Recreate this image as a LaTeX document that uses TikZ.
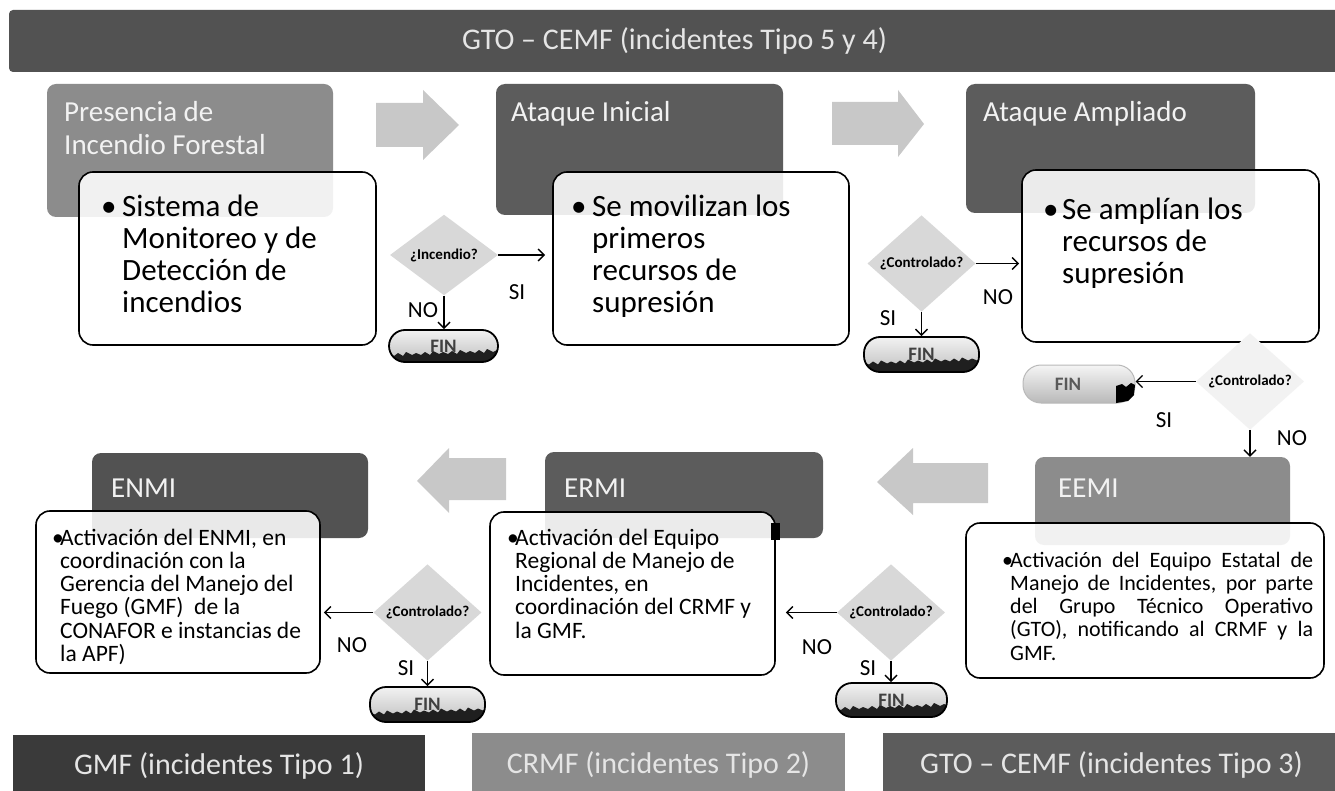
\documentclass[tikz,border=0pt]{standalone}
\usepackage{fontspec}
\setmainfont{Carlito}
\usetikzlibrary{shapes.geometric,arrows.meta}
\definecolor{cTop}{RGB}{82,82,82}
\definecolor{cDark}{RGB}{92,92,92}
\definecolor{cMid}{RGB}{140,140,140}
\definecolor{cGMF}{RGB}{58,58,58}
\definecolor{cArrow}{RGB}{200,200,200}
\definecolor{cDiam}{RGB}{216,216,216}
\newcommand\myfs[2]{\fontsize{#1}{#2}\selectfont}
\begin{document}
\begin{tikzpicture}[x=1pt,y=-1pt,
  hdr/.style={rectangle, rounded corners=9pt, inner sep=0, draw=none},
  bar/.style={rectangle, inner sep=0, text=white!90!black, font=\myfs{30}{30}},
  cbox/.style={rectangle, rounded corners=14pt, draw=black, line width=1.6pt, fill=white, fill opacity=0.88, draw opacity=1, inner sep=0},
  htext/.style={anchor=base west, inner sep=0, text=white!95!black, font=\myfs{29}{29}},
  btext/.style={anchor=base west, inner sep=0, font=\myfs{31}{31}},
  stext/.style={anchor=base west, inner sep=0, font=\myfs{23.5}{23.5}},
  etext/.style={anchor=base west, inner sep=0, font=\myfs{22}{22}},
  dec/.style={diamond, fill=cDiam, inner sep=0, minimum width=108pt, minimum height=66pt, font=\bfseries\myfs{15}{15}},
  lbl/.style={inner sep=0, font=\myfs{23}{23}},
  arr/.style={line width=1.4pt, -{Straight Barb[length=6pt,width=12pt,line width=1.4pt]}},
  blk/.style={fill=cArrow},
  fin/.style={rectangle, rounded corners=16pt, draw=black, line width=1.8pt, minimum width=112pt, minimum height=34pt, inner sep=0,
    font=\bfseries\myfs{19}{19}, text=black!75, top color=gray!10, bottom color=gray!50,
    path picture={\fill[black!88, sharp corners] ([yshift=-8pt]path picture bounding box.west)
      -- ++(5pt,-2pt) -- ++(4pt,3pt) -- ++(5pt,-3pt) -- ++(3pt,4pt) -- ++(6pt,-3pt) -- ++(4pt,2pt)
      -- ++(5pt,-2pt) -- ++(4pt,3pt) -- ++(5pt,-3pt) -- ++(3pt,4pt) -- ++(6pt,-3pt) -- ++(4pt,2pt)
      -- ++(5pt,-2pt) -- ++(4pt,3pt) -- ++(5pt,-3pt) -- ++(3pt,4pt) -- ++(6pt,-3pt) -- ++(4pt,2pt)
      -- ++(5pt,-2pt) -- ++(4pt,3pt) -- ++(5pt,-3pt) -- ++(3pt,4pt) -- ++(6pt,-3pt) -- ++(4pt,2pt)
      -- ++(5pt,-2pt) -- ++(4pt,3pt)
      -- ([xshift=20pt]path picture bounding box.south east) -- (path picture bounding box.south west) -- cycle;}},
  finL/.style={rectangle, rounded corners=18pt, draw=gray!55, line width=1pt, minimum width=112pt, minimum height=38pt, inner sep=0,
    font=\bfseries\myfs{19}{19}, text=black!65, top color=gray!8, bottom color=gray!55}
]
\useasboundingbox (0,0) rectangle (1335,791);
\fill[white] (0,0) rectangle (1335,791);

% top bar
\node[bar, fill=cTop, rounded corners=4pt, minimum width=1331pt, minimum height=62pt] (top) at (674.5,41) {GTO – CEMF (incidentes Tipo 5 y 4)};

% headers row 1
\node[hdr, fill=cMid, minimum width=286pt, minimum height=133pt] (h1) at (190,150.5) {};
\node[hdr, fill=cDark, minimum width=287pt, minimum height=131pt] (h2) at (639.5,149.5) {};
\node[hdr, fill=cDark, minimum width=289pt, minimum height=129pt] (h3) at (1110.5,148.5) {};
\node[htext] (h1a) at (64,122) {Presencia de};
\node[htext] (h1b) at (64,155) {Incendio Forestal};
\node[htext] (h2a) at (511,122) {Ataque Inicial};
\node[htext] (h3a) at (983,122) {Ataque Ampliado};

% headers row 2
\node[hdr, fill=cMid, minimum width=255pt, minimum height=88pt] (hE) at (1162.5,501) {};
\node[hdr, fill=cDark, minimum width=278pt, minimum height=86pt] (hR) at (684,495) {};
\node[hdr, fill=cTop, minimum width=276pt, minimum height=85pt] (hN) at (230,495.5) {};
\node[htext] (hEa) at (1058,497) {EEMI};
\node[htext] (hRa) at (564,497) {ERMI};
\node[htext] (hNa) at (111,497) {ENMI};

% block arrows
\fill[blk] (376,103) -- (423,103) -- (423,90) -- (459,125) -- (423,160) -- (423,147) -- (376,147) -- cycle;
\fill[blk] (832,102) -- (898,102) -- (898,90) -- (924,124) -- (898,157) -- (898,145) -- (832,145) -- cycle;
\fill[blk] (988,463) -- (913,463) -- (913,448) -- (877,482) -- (913,515) -- (913,503) -- (988,503) -- cycle;
\fill[blk] (506,458) -- (449,458) -- (449,448) -- (417,481) -- (449,513) -- (449,500) -- (506,500) -- cycle;

% content boxes
\node[cbox, minimum width=297pt, minimum height=173pt] (b1) at (227.5,258.5) {};
\node[cbox, minimum width=296pt, minimum height=173pt] (b2) at (701,258.5) {};
\node[cbox, minimum width=297pt, minimum height=172pt] (b3) at (1170.5,256) {};
\node[cbox, minimum width=358pt, minimum height=155pt] (bE) at (1145,600.5) {};
\node[cbox, minimum width=285pt, minimum height=163pt] (bR) at (632.5,593.5) {};
\node[cbox, minimum width=284pt, minimum height=162pt] (bN) at (178,592) {};
\fill[black] (771,523) rectangle (780,540);

% big box texts
\node[btext] (b1u) at (101,217) {•};
\foreach \t [count=\i] in {Sistema de,Monitoreo y de,Detección de,incendios}
  \node[btext] (b1t\i) at (122,{217+32*(\i-1)}) {\t};
\node[btext] (b2u) at (571,217) {•};
\foreach \t [count=\i] in {Se movilizan los,primeros,recursos de,supresión}
  \node[btext] (b2t\i) at (592,{217+32*(\i-1)}) {\t};
\node[btext] (b3u) at (1043,220) {•};
\foreach \t [count=\i] in {Se amplían los,recursos de,supresión}
  \node[btext] (b3t\i) at (1062,{220+32*(\i-1)}) {\t};

% small box texts
\node[stext] (bNu) at (52,545) {•};
\foreach \t [count=\i] in {{Activación del ENMI, en},{coordinación con la},{Gerencia del Manejo del},{Fuego (GMF)~ de la},{CONAFOR e instancias de},{la APF)}}
  \node[stext] (bNt\i) at (60,{545+23.3*(\i-1)}) {\t};
\node[stext] (bRu) at (507,545) {•};
\foreach \t [count=\i] in {{Activación del Equipo},{Regional de Manejo de},{Incidentes, en},{coordinación del CRMF y},{la GMF.}}
  \node[stext] (bRt\i) at (515,{545+23.3*(\i-1)}) {\t};
\node[etext] (bEu) at (1002,567) {•};
\foreach \t [count=\i] in {{Activación del Equipo Estatal de},{Manejo de Incidentes, por parte},{del Grupo Técnico Operativo},{(GTO), notificando al CRMF y la}}
  \node[etext] (bEt\i) at (1010,{567+23.3*(\i-1)}) {\makebox[303pt][s]{\t}};
\node[etext] (bEt5) at (1010,660.2) {GMF.};

% decisions
\node[dec] (d1) at (444,255) {¿Incendio?};
\node[dec] (d2) at (921.5,263.5) {¿Controlado?};
\node[dec, fill=gray!10] (d3) at (1250,381.5) {¿Controlado?};
\node[dec] (d4) at (891,612.5) {¿Controlado?};
\node[dec] (d5) at (427.5,612.5) {¿Controlado?};

% FIN terminals
\node[fin, minimum width=109pt, minimum height=32pt] (f1) at (443.5,346) {FIN};
\node[fin, minimum width=115pt, minimum height=35pt] (f2) at (921.5,354.5) {FIN};
\node[finL] (f3) at (1079,384) {\hspace*{-22pt}FIN};
\fill[black] (1116,386) -- (1122,384) -- (1126,387) -- (1131,383) -- (1135,385) -- (1134,395) -- (1128,401) -- (1116,403) -- cycle;
\node[fin, minimum width=111pt, minimum height=34pt] (f4) at (891.5,700) {FIN};
\node[fin, minimum width=115pt, minimum height=35pt] (f5) at (427.5,704.5) {FIN};

% connectors
\draw[arr] (d1.east) -- ([xshift=-7pt]d1.east -| b2.west);
\draw[arr] (d1.south) -- (d1.south |- f1.north);
\draw[arr] (d2.east) -- ([xshift=-2pt]d2.east -| b3.west);
\draw[arr] (d2.south) -- (d2.south |- f2.north);
\draw[arr] (d3.west) -- (d3.west -| f3.east);
\draw[arr] (d3.south) -- (d3.south |- hE.north);
\draw[arr] (d4.west) -- ([xshift=10pt]d4.west -| bR.east);
\draw[arr] (d4.south) -- (d4.south |- f4.north);
\draw[arr] (d5.west) -- ([xshift=3pt]d5.west -| bN.east);
\draw[arr] (d5.south) -- (d5.south |- f5.north);

% labels
\node[lbl] (l1) at (517,292) {SI};
\node[lbl] (l2) at (423,310) {NO};
\node[lbl] (l3) at (998,297) {NO};
\node[lbl] (l4) at (888,318) {SI};
\node[lbl] (l5) at (1164,420) {SI};
\node[lbl] (l6) at (1292,438) {NO};
\node[lbl] (l7) at (817,647) {NO};
\node[lbl] (l8) at (868,668) {SI};
\node[lbl] (l9) at (352,645) {NO};
\node[lbl] (l10) at (406,668) {SI};

% bottom bars
\node[bar, fill=cGMF, minimum width=412pt, minimum height=62pt] (gmf) at (219,766) {GMF (incidentes Tipo 1)};
\node[bar, fill=cMid, minimum width=373pt, minimum height=64pt] (crmf) at (658.5,765) {CRMF (incidentes Tipo 2)};
\node[bar, fill=cDark, minimum width=457pt, minimum height=64pt] (gto3) at (1111.5,765) {GTO – CEMF (incidentes Tipo 3)};
\end{tikzpicture}
\end{document}
